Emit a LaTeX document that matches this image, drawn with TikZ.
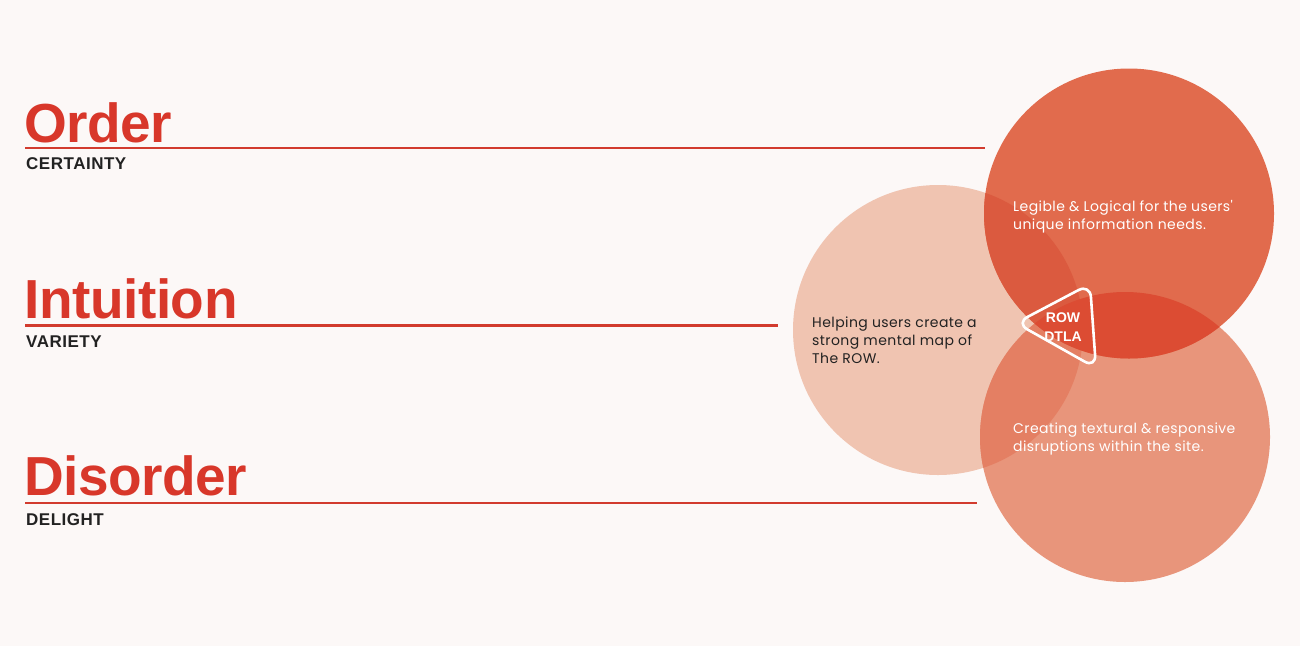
\documentclass[tikz,border=0pt]{standalone}
\usepackage{fontspec}
\setmainfont{Liberation Sans}
\newfontfamily\headfont[LetterSpace=-0.8]{Liberation Sans}
\newfontfamily\subfont[LetterSpace=3]{Liberation Sans}
\newfontfamily\bodyfont[LetterSpace=3]{Poppins}
\usetikzlibrary{positioning}
\definecolor{pagebg}{HTML}{FCF8F7}
\definecolor{titlered}{HTML}{D8372A}
\definecolor{rulered}{HTML}{D23B2E}
\definecolor{topfill}{HTML}{E16B4D}
\definecolor{leftfill}{HTML}{F0C4B1}
\definecolor{lowfill}{HTML}{E8957B}
\definecolor{topleft}{HTML}{DB5A3F}
\definecolor{toplow}{HTML}{DC4C33}
\definecolor{leftlow}{HTML}{E47F63}
\definecolor{inktext}{HTML}{222222}
\tikzset{
  title/.style={anchor=base west, inner sep=0pt, text=titlered, font=\headfont\bfseries\fontsize{55}{55}\selectfont},
  subtitle/.style={anchor=base west, inner sep=0pt, text=inktext, font=\subfont\bfseries\fontsize{17}{17}\selectfont},
  rule/.style={rulered, line width=2.2pt},
  bubbletext/.style={anchor=base west, inner sep=0pt, align=left, font=\bodyfont\fontsize{14}{18}\selectfont},
}
\begin{document}
\begin{tikzpicture}[x=1pt, y=-1pt]
    \fill[pagebg] (0,0) rectangle (1300,646);
    \useasboundingbox (0,0) rectangle (1300,646);

    \coordinate (ctop) at (1129,213.5);
    \coordinate (cleft) at (938,330);
    \coordinate (clow) at (1125,437);

    \fill[leftfill] (cleft) circle (145);
    \fill[lowfill] (clow) circle (145);
    \fill[topfill] (ctop) circle (145);
    \begin{scope}
        \clip (cleft) circle (145);
        \fill[leftlow] (clow) circle (145);
        \fill[topleft] (ctop) circle (145);
    \end{scope}
    \begin{scope}
        \clip (clow) circle (145);
        \fill[toplow] (ctop) circle (145);
    \end{scope}

    \node[title] (order) at (24,142) {Order};
    \node[subtitle] (certainty) at (26,169) {CERTAINTY};
    \node[title] (intuition) at (24,318) {Intuition};
    \node[subtitle] (variety) at (26,347) {VARIETY};
    \node[title] (disorder) at (24,495) {Disorder};
    \node[subtitle] (delight) at (26,525) {DELIGHT};

    \coordinate (orderA) at (25,148);
    \coordinate (orderB) at (985,148);
    \coordinate (intuitionA) at (25,325.5);
    \coordinate (intuitionB) at (778,325.5);
    \coordinate (disorderA) at (25,503);
    \coordinate (disorderB) at (977,503);
    \draw[rule] (orderA) -- (orderB);
    \draw[rule] (intuitionA) -- (intuitionB);
    \draw[rule] (disorderA) -- (disorderB);

    \node[bubbletext, text=white] (legible) at (1013,229) {Legible \& Logical for the users'\\unique information needs.};
    \node[bubbletext, text=inktext] (helping) at (812,363) {Helping users create a\\strong mental map of\\The ROW.};
    \node[bubbletext, text=white] (creating) at (1013,451) {Creating textural \& responsive\\disruptions within the site.};

    \draw[white, line width=2.6pt, rounded corners=13pt] (1016,323) -- (1090,284) -- (1096,368) -- cycle;
    \node[text=white, align=center, inner sep=0pt, font=\bfseries\fontsize{14}{18.5}\selectfont] (rowdtla) at (1063,327) {ROW\\DTLA};
\end{tikzpicture}
\end{document}
